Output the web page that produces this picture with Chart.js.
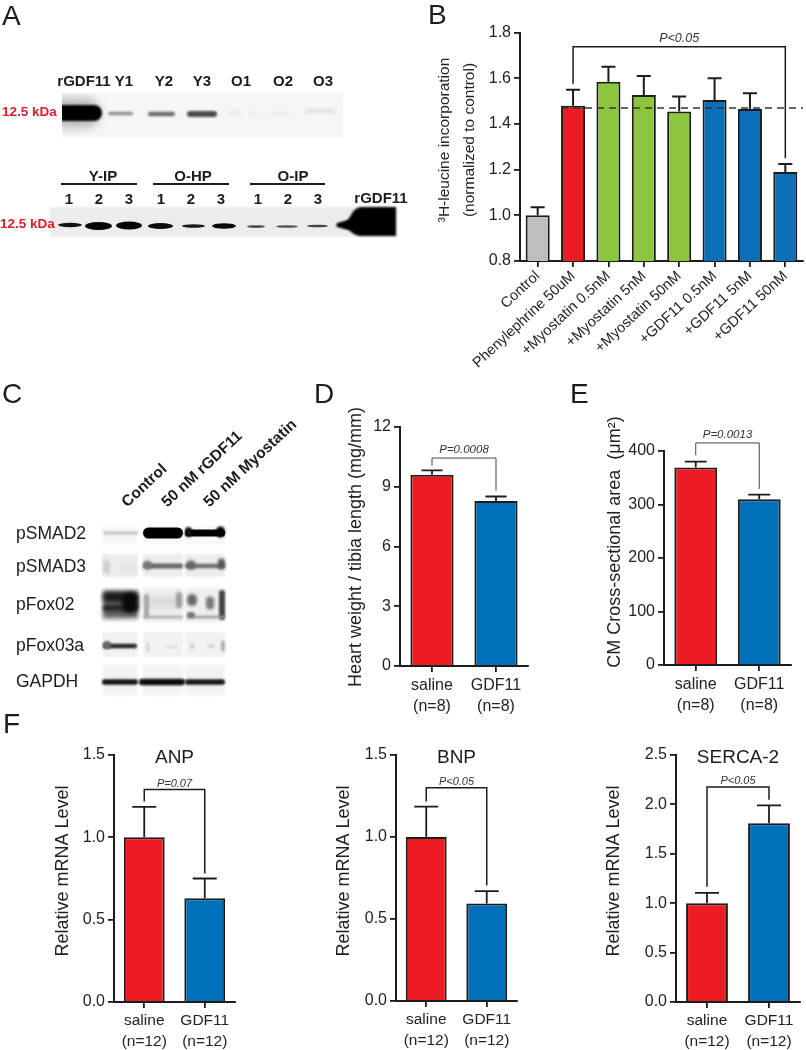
<!DOCTYPE html>
<html><head><meta charset="utf-8">
<script src="https://cdn.jsdelivr.net/npm/chart.js@4"></script>
<style>
html,body{margin:0;padding:0;background:#fff;width:806px;height:1050px;overflow:hidden}
body{position:relative;font-family:"Liberation Sans",Arial,sans-serif;color:#1c1c1c}
canvas{position:absolute}
.t{position:absolute;white-space:nowrap;line-height:1;transform:translate(-50%,-50%)}
.l{position:absolute;white-space:nowrap;line-height:1;transform:translateY(-50%)}
.r{position:absolute;white-space:nowrap;line-height:1;transform-origin:0 100%;transform:rotate(-43deg);font-weight:bold;font-size:15.5px}
.rule{position:absolute;height:2px;background:#1c1c1c}
</style></head><body>
<canvas id="blots" width="806" height="1050" style="left:0;top:0"></canvas>
<script>
// ---- Panel B
const bLabels=['Control','Phenylephrine 50uM','+Myostatin 0.5nM','+Myostatin 5nM','+Myostatin 50nM','+GDF11 0.5nM','+GDF11 5nM','+GDF11 50nM'];
const bValues=[1.0,1.48,1.585,1.527,1.455,1.505,1.465,1.19];
const bErrTops=[1.035,1.55,1.65,1.61,1.52,1.60,1.535,1.225];
const bColors=['#bcbec0','#ed1c24','#8cc63f','#8cc63f','#8cc63f','#0b6fb8','#0b6fb8','#0b6fb8'];
const bReference=1.47;
const bBracket=[1,7,1.738,1.576,1.25];
// ---- Panel D
const dLabels=[['saline','(n=8)'],['GDF11','(n=8)']];
const dValues=[9.6,8.28];
const dErrTops=[9.82,8.51];
const dBracket=[0,1,10.44,10.06,8.8];
// ---- Panel E
const eLabels=[['saline','(n=8)'],['GDF11','(n=8)']];
const eValues=[369,310];
const eErrTops=[380,318.5];
const eBracket=[0,1,415,392,329];
// ---- Panel F
const fLabels=[['saline','(n=12)'],['GDF11','(n=12)']];
const anpValues=[1.0,0.63];
const anpErrTops=[1.185,0.75];
const anpBracket=[0,1,1.29,1.217,0.78];
const bnpValues=[1.0,0.595];
const bnpErrTops=[1.185,0.67];
const bnpBracket=[0,1,1.30,1.217,0.705];
const sercaValues=[1.0,1.81];
const sercaErrTops=[1.105,1.99];
const sercaBracket=[0,1,2.175,1.167,2.047];
const pairColors=['#ed1c24','#0070b9'];

const INK='#1c1c1c';
const SANS='"Liberation Sans",Arial,sans-serif';

const overlay={id:'overlay',
  beforeDraw(chart,a,o){
    const y=chart.scales.y;
    if(!y._shifted){
      y._shifted=true;
      const orig=y.drawTitle;
      y.drawTitle=function(){
        const t=this.top,b=this.bottom;
        const c=o.titleY-o.box.top;
        this.top=c-300;this.bottom=c+300;
        orig.call(this);
        this.top=t;this.bottom=b;
      };
    }
  },
  afterDatasetsDraw(chart,a,o){
    const {ctx}=chart,x=chart.scales.x,y=chart.scales.y;
    ctx.save();
    ctx.strokeStyle=INK;
    if(o.reference!=null){
      ctx.save();ctx.setLineDash([7,5]);ctx.lineWidth=1.5;ctx.strokeStyle='#333';
      const py=y.getPixelForValue(o.reference);
      const bar=chart.getDatasetMeta(0).data[o.referenceFrom];
      ctx.beginPath();ctx.moveTo(bar.x-bar.width/2,py);ctx.lineTo(chart.chartArea.right,py);ctx.stroke();
      ctx.restore();
    }
    ctx.lineWidth=o.errWidth;
    o.values.forEach((v,i)=>{
      const px=x.getPixelForValue(i),p0=y.getPixelForValue(v),p1=y.getPixelForValue(o.errTops[i]);
      ctx.beginPath();ctx.moveTo(px,p0);ctx.lineTo(px,p1);
      ctx.moveTo(px-o.cap/2,p1);ctx.lineTo(px+o.cap/2,p1);ctx.stroke();
    });
    const [i0,i1,top,leftEnd,rightEnd]=o.bracket;
    const xl=x.getPixelForValue(i0),xr=x.getPixelForValue(i1),yt=y.getPixelForValue(top);
    ctx.lineWidth=o.brWidth;ctx.strokeStyle=o.brColor;
    ctx.beginPath();ctx.moveTo(xl,y.getPixelForValue(leftEnd));ctx.lineTo(xl,yt);ctx.lineTo(xr,yt);ctx.lineTo(xr,y.getPixelForValue(rightEnd));ctx.stroke();
    ctx.fillStyle='#333';ctx.font='italic '+o.pSize+'px '+SANS;ctx.textAlign='center';ctx.textBaseline='middle';
    ctx.fillText(o.pText,(xl+xr)/2,yt-o.pGap);
    if(o.heading){
      ctx.fillStyle=INK;ctx.font='19px '+SANS;
      ctx.fillText(o.heading,(chart.chartArea.left+chart.chartArea.right)/2,o.headingY-o.box.top);
    }
    ctx.restore();
  }
};

function panel(c){
  const cv=document.createElement('canvas');
  const B=c.box,P=c.plot;
  cv.width=B.right-B.left;cv.height=B.bottom-B.top;
  cv.style.left=B.left+'px';cv.style.top=B.top+'px';
  document.body.appendChild(cv);
  return new Chart(cv,{type:'bar',
    data:{labels:c.labels,datasets:[{data:c.values,backgroundColor:c.colors,borderColor:INK,borderWidth:2,borderSkipped:'bottom',barPercentage:c.barPct||0.675,categoryPercentage:1}]},
    options:{responsive:false,animation:false,devicePixelRatio:1,
      layout:{autoPadding:false,padding:{left:0,top:P.top-B.top,right:B.right-P.right,bottom:0}},
      plugins:{legend:{display:false},tooltip:{enabled:false},
        overlay:{box:B,values:c.values,errTops:c.errTops,bracket:c.bracket,reference:c.reference,referenceFrom:c.referenceFrom,cap:c.cap,errWidth:c.errWidth||1.8,brWidth:c.brWidth||1.5,brColor:c.brColor||INK,pText:c.pText,pSize:c.pSize,pGap:c.pGap,titleY:c.titleY,heading:c.heading,headingY:c.headingY}},
      scales:{
        x:{offset:true,grid:{offset:false,drawOnChartArea:false,drawTicks:true,tickLength:6,color:INK,lineWidth:1.8},border:{color:INK,width:2},
          ticks:{color:'#222',autoSkip:false,padding:c.xPad==null?3:c.xPad,font:{family:SANS,size:c.xSize,lineHeight:1.3},minRotation:c.rot||0,maxRotation:c.rot||0},
          afterFit(s){s.height=B.bottom-P.bottom;}},
        y:{min:c.min,max:c.max,grid:{drawOnChartArea:false,drawTicks:true,tickLength:6,color:INK,lineWidth:1.8},border:{color:INK,width:2},
          ticks:{color:'#222',stepSize:c.step,padding:3,font:{family:SANS,size:c.ySize||16},callback:v=>c.dec?v.toFixed(c.dec):v},
          title:{display:true,text:c.title,color:'#222',font:{family:SANS,size:c.tSize,lineHeight:c.tLH||1.2},padding:{top:c.titleX-B.left-c.tSize*(c.tLH||1.2)/2,bottom:0}},
          afterFit(s){s.width=P.left-B.left;}}
      }},
    plugins:[overlay]});
}

panel({box:{left:420,top:20,right:806,bottom:395},plot:{left:520,top:32,right:803,bottom:261},labels:bLabels,values:bValues,errTops:bErrTops,colors:bColors,reference:bReference,referenceFrom:1,bracket:bBracket,min:0.8,max:1.8,step:0.2,dec:1,xSize:14.6,rot:43,xPad:0,cap:14,barPct:0.68,title:['³H-leucine incorporation','(normalized to control)'],tSize:15.5,tLH:1.6,titleX:445,titleY:140,pText:'P<0.05',pSize:12.5,pGap:8,errWidth:2});
panel({box:{left:340,top:400,right:545,bottom:720},plot:{left:400,top:427,right:528,bottom:666},labels:dLabels,values:dValues,errTops:dErrTops,colors:pairColors,bracket:dBracket,min:0,max:12,step:3,xSize:16,cap:21,title:'Heart weight / tibia length (mg/mm)',tSize:18,titleX:356,titleY:547,pText:'P=0.0008',pSize:11.5,pGap:8,brWidth:1,brColor:'#444'});
panel({box:{left:600,top:400,right:806,bottom:720},plot:{left:664,top:451,right:791,bottom:665},labels:eLabels,values:eValues,errTops:eErrTops,colors:pairColors,bracket:eBracket,min:0,max:400,step:100,xSize:16,cap:22,title:'CM Cross-sectional area  (μm²)',tSize:18,titleX:615,titleY:542,pText:'P=0.0013',pSize:11.5,pGap:8,brWidth:1,brColor:'#444'});
panel({box:{left:40,top:740,right:250,bottom:1050},plot:{left:114,top:755,right:235,bottom:1002},labels:fLabels,values:anpValues,errTops:anpErrTops,colors:pairColors,bracket:anpBracket,min:0,max:1.5,step:0.5,dec:1,xSize:15.5,cap:24,title:'Relative mRNA Level',tSize:18,titleX:63,titleY:871,pText:'P=0.07',pSize:11,pGap:6,heading:'ANP',headingY:758});
panel({box:{left:320,top:740,right:530,bottom:1050},plot:{left:396,top:755,right:517,bottom:1001},labels:fLabels,values:bnpValues,errTops:bnpErrTops,colors:pairColors,bracket:bnpBracket,min:0,max:1.5,step:0.5,dec:1,xSize:15.5,cap:24,title:'Relative mRNA Level',tSize:18,titleX:344,titleY:871,pText:'P<0.05',pSize:11,pGap:6,heading:'BNP',headingY:758});
panel({box:{left:590,top:740,right:806,bottom:1050},plot:{left:676,top:755,right:800,bottom:1002},labels:fLabels,values:sercaValues,errTops:sercaErrTops,colors:pairColors,bracket:sercaBracket,min:0,max:2.5,step:0.5,dec:1,xSize:15.5,cap:24,title:'Relative mRNA Level',tSize:18,titleX:614,titleY:871,pText:'P<0.05',pSize:11,pGap:6,heading:'SERCA-2',headingY:758});

// ---- Text labels outside the charts
function put(cls,txt,x,y,css){const e=document.createElement('div');e.className=cls;e.textContent=txt;e.style.left=x+'px';e.style.top=y+'px';if(css)Object.assign(e.style,css);document.body.appendChild(e);return e;}
const letter={fontSize:'28px',fontWeight:'normal'};
put('l','A',2,16,letter);put('l','B',428,15,letter);put('l','C',2,394,letter);put('l','D',314,394,letter);put('l','E',570,394,letter);put('l','F',3,724,letter);
const red={fontSize:'13.5px',fontWeight:'bold',color:'#d9202c'};
put('l','12.5 kDa',2,112,red);put('l','12.5 kDa',0,224,red);
const hb={fontSize:'15px',fontWeight:'bold'};
[['rGDF11',84],['Y1',124],['Y2',164],['Y3',202],['O1',241],['O2',283],['O3',323]].forEach(([s,x])=>put('t',s,x,80,hb));
[['Y-IP',103],['O-HP',193],['O-IP',293]].forEach(([s,x])=>put('t',s,x,175,hb));
[[61,76],[153,76],[250,75]].forEach(([x,w])=>{const e=put('rule','',x,183);e.style.width=w+'px';});
[69,99,129,161,191,221,258,288,318].forEach((x,i)=>put('t',String(i%3+1),x,198,hb));
put('t','rGDF11',381,197,hb);
const rowf={fontSize:'17.5px'};
[['pSMAD2',534],['pSMAD3',567],['pFox02',605],['pFox03a',646],['GAPDH',682]].forEach(([s,y])=>put('l',s,16,y,rowf));
[['Control',129],['50 nM rGDF11',169],['50 nM Myostatin',211]].forEach(([s,x])=>{put('r',s,x,494);});

// ---- Western blot photographs (illustrative, not chart data)
const g=document.getElementById('blots').getContext('2d');
function bg(x0,y0,x1,y1,col,blur){g.save();g.filter='blur('+(blur||1)+'px)';g.fillStyle=col;g.fillRect(x0,y0,x1-x0,y1-y0);g.restore();}
function band(x0,x1,y,h,col,blur){g.save();g.filter='blur('+(blur==null?1:blur)+'px)';g.fillStyle=col;g.beginPath();g.ellipse((x0+x1)/2,y,(x1-x0)/2,h/2,0,0,Math.PI*2);g.fill();g.restore();}
function rb(x0,x1,y,h,col,blur){g.save();g.filter='blur('+(blur==null?1:blur)+'px)';g.fillStyle=col;g.beginPath();g.roundRect(x0,y-h/2,x1-x0,h,h/2);g.fill();g.restore();}
// A top
bg(62,93,343,137,'#f6f6f6',1);
g.save();g.beginPath();g.rect(62,93,282,44);g.clip();
rb(50,100,113,30,'rgba(90,90,90,.38)',5);
rb(50,102,113,16,'#000',1.3);
g.restore();
rb(108,133,113.5,3.5,'#8f8f8f',1.3);rb(148,175,114,4.5,'#6c6c6c',1.1);rb(187,217,114,6,'#4c4c4c',1.1);
rb(228,240,113,3,'#e4e4e4',1.5);rb(250,258,113,2,'#e6e6e6',1);rb(270,290,114,3,'#e8e8e8',1.5);rb(305,335,111,4,'#dfdfdf',1.5);
// A bottom
bg(50,207,397,237,'#ececec',.8);
band(58,82,225,4.5,'#111',.6);band(85,112,226,8,'#050505',.6);band(116,142,225.5,8,'#050505',.6);
band(148,173,226,6,'#0a0a0a',.6);band(182,205,226,3.5,'#1a1a1a',.6);band(212,236,226,5.5,'#0a0a0a',.6);
band(247,265,226.5,2.5,'#444',.6);band(276,298,226.5,2.5,'#555',.6);band(307,328,226,2.5,'#444',.6);
band(336,362,225,8,'#000',.8);
g.save();g.filter='blur(.8px)';g.fillStyle='#000';g.beginPath();g.moveTo(344,222);g.bezierCurveTo(352,220,350,208,362,207);g.lineTo(396,207);g.lineTo(396,236);g.lineTo(362,236);g.bezierCurveTo(352,236,352,230,344,228);g.closePath();g.fill();g.restore();
// C rows
[[102,138],[143,183],[185,225]].forEach(([a,b])=>{
  bg(a,526,b,545,'#f7f7f7',1.5);bg(a,554,b,577,'#ededed',1.2);bg(a,588,b,622,'#eeeeee',1.2);bg(a,632,b,657,'#f2f2f2',1.2);bg(a,665,b,695,'#f3f3f3',1.5);
});
rb(103,138,533,3,'#c2c2c2',1.2);rb(143,183,533,11,'#000',.7);rb(185,225,533,7,'#000',.7);rb(216,225,532,11,'#000',.8);rb(185,192,532,10,'#111',.8);
rb(103,110,567,14,'#cfcfcf',1.6);rb(120,136,568,7,'#e2e2e2',2);
rb(143,183,566,5,'#666',1.3);rb(143,152,565,9,'#777',1.5);rb(185,225,566,4.5,'#707070',1.3);rb(186,196,565,9,'#666',1.6);rb(218,225,564,11,'#555',1.5);
bg(103,591,138,618,'#5c5c5c',2);rb(103,138,597,9,'#1a1a1a',2);rb(103,138,608,6,'#2a2a2a',1.6);rb(122,138,603,20,'#0a0a0a',2);
rb(143,183,602,12,'#dcdcdc',2.2);rb(144,149,606,24,'#a8a8a8',1.2);rb(143,183,617,2.5,'#aaa',1);rb(176,182,600,16,'#9a9a9a',1.6);
rb(187,197,600,12,'#6a6a6a',1.6);rb(206,214,603,13,'#7a7a7a',1.6);rb(219,225,605,30,'#444',1.2);rb(187,225,617,2.5,'#999',1);rb(187,195,615,6,'#777',1);
rb(103,137,646,4.5,'#262626',.9);rb(103,111,645,8,'#666',1);
rb(146,149,647,9,'#cfcfcf',1);rb(165,178,647,3,'#dfdfdf',1.2);rb(190,194,646,7,'#d2d2d2',1);rb(207,215,646,4,'#d8d8d8',1.2);rb(221,225,646,11,'#b0b0b0',1);
rb(102,138,682,5.5,'#141414',.9);rb(139,185,682,6.5,'#0c0c0c',.9);rb(185,225,682,5.5,'#181818',.9);
</script>
</body></html>
